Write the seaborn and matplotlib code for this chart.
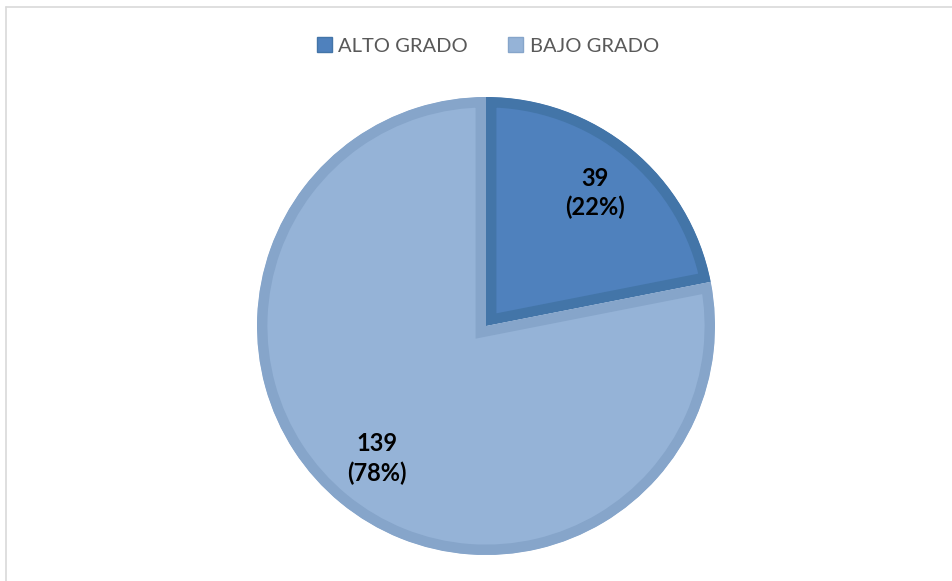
import matplotlib
matplotlib.use("Agg")
import matplotlib.pyplot as plt
from matplotlib.patches import Patch
from matplotlib.lines import Line2D
import seaborn as sns

# Data
categories = ["ALTO GRADO", "BAJO GRADO"]
counts = [39, 139]

# Styling
fill_colors = ["#4F81BD", "#95B3D7"]
edge_colors = ["#4375A8", "#86A5CA"]

sns.set_theme(style="white")
plt.rcParams["font.family"] = ["Lato", "DejaVu Sans"]

W, H, DPI = 953, 581, 100
fig = plt.figure(figsize=(W / DPI, H / DPI), dpi=DPI)
fig.patch.set_facecolor("white")

# Pie placed by its center and radius in pixels
cx, cy, r = 486, 326, 229
ax = fig.add_axes([(cx - r) / W, (H - cy - r) / H, 2 * r / W, 2 * r / H])

total = sum(counts)


def label_fmt(pct):
    value = int(round(pct * total / 100.0))
    return f"{value}\n({pct:.0f}%)"


wedges, texts, autotexts = ax.pie(
    counts,
    colors=fill_colors,
    startangle=90,
    counterclock=False,
    radius=1.0,
    autopct=label_fmt,
    pctdistance=0.75,
    textprops=dict(fontsize=17, fontweight="bold", color="black"),
    wedgeprops=dict(linewidth=15, joinstyle="miter"),
)

ax.set_xlim(-1, 1)
ax.set_ylim(-1, 1)
ax.set_aspect("equal")
ax.axis("off")

# Thick border kept on the inside of each slice only
for w, ec in zip(wedges, edge_colors):
    w.set_edgecolor(ec)
    w.set_clip_on(True)
    w.set_clip_path(w.get_path(), w.get_transform())

for t in autotexts:
    t.set_linespacing(1.3)
    t.set_ha("center")
    t.set_va("center")

# Legend along the top
handles = [Patch(facecolor=f, edgecolor=e, linewidth=1.0) for f, e in zip(fill_colors, edge_colors)]
fig.legend(
    handles,
    categories,
    loc="center",
    bbox_to_anchor=(488 / W, 1 - 46 / H),
    ncol=2,
    frameon=False,
    fontsize=14.5,
    labelcolor="#595959",
    handlelength=0.75,
    handleheight=0.75,
    handletextpad=0.3,
    columnspacing=2.0,
)

# Chart area frame (top and left edges)
fig.add_artist(Line2D([6 / W, 1], [1 - 7 / H, 1 - 7 / H], color="#D9D9D9", linewidth=1.2))
fig.add_artist(Line2D([6 / W, 6 / W], [0, 1 - 7 / H], color="#D9D9D9", linewidth=1.2))

fig.savefig("out.png", dpi=DPI, facecolor="white")
